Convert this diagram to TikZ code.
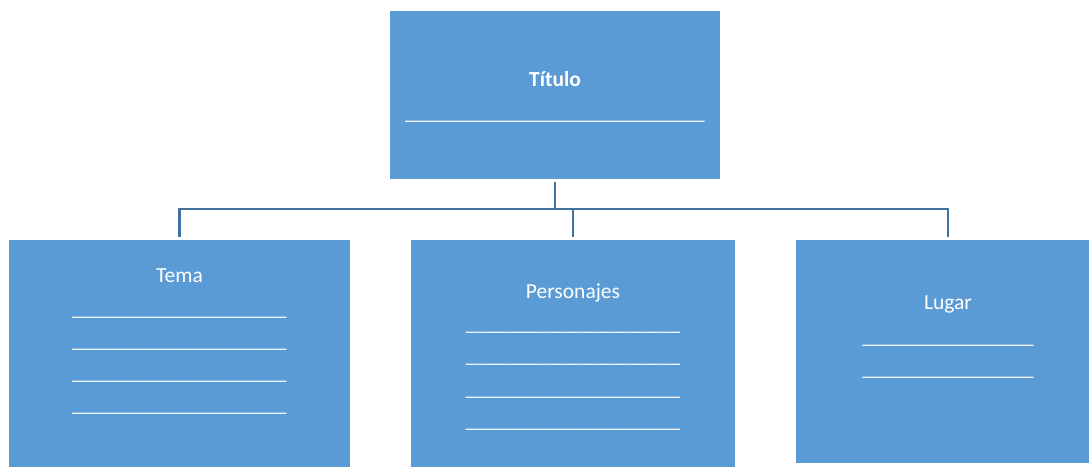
\documentclass[tikz,border=0pt]{standalone}
\usepackage{fontspec}
\setmainfont{Carlito}
\definecolor{boxblue}{HTML}{5B9BD5}
\definecolor{linkblue}{HTML}{41719C}
\newcommand{\blanks}[1]{\foreach \k in {1,...,#1}{\_}}

\begin{document}
\begin{tikzpicture}[x=1pt,y=-1pt,
	box/.style={fill=boxblue, inner sep=0pt},
	link/.style={draw=linkblue, line width=2.5pt},
	lbl/.style={text=white, anchor=base, inner sep=0pt, font=\fontsize{21.5}{26}\selectfont}]
	\useasboundingbox (0,0) rectangle (1089,466);

	% boxes
	\node[box, minimum width=330pt, minimum height=168pt] (titulo) at (555,95) {};
	\node[box, minimum width=341pt, minimum height=232pt] (tema) at (179.5,356) {};
	\node[box, minimum width=324pt, minimum height=232pt] (personajes) at (573,356) {};
	\node[box, minimum width=304pt, minimum height=223pt] (lugar) at (948,351.5) {};

	% texts
	\node[lbl, font=\fontsize{21.5}{26}\selectfont\bfseries] (ttitulo) at (555,86) {Título};
	\node[lbl] (ltitulo) at (555,119) {\blanks{28}};

	\node[lbl] (ttema) at (179.5,282) {Tema};
	\foreach \y [count=\n] in {317,349,381,413}
		\node[lbl] (ltema\n) at (179.5,\y-2) {\blanks{20}};

	\node[lbl] (tpersonajes) at (573,298) {Personajes};
	\foreach \y [count=\n] in {332,364,397,429}
		\node[lbl] (lpersonajes\n) at (573,\y-2) {\blanks{20}};

	\node[lbl] (tlugar) at (948,309) {Lugar};
	\foreach \y [count=\n] in {345,377}
		\node[lbl] (llugar\n) at (948,\y-2) {\blanks{16}};

	% connectors
	\coordinate (bus) at (555,209);
	\draw[link, shorten <=3pt] (titulo.south) -- (bus);
	\draw[link, shorten >=3pt] (bus) -| (tema.north);
	\draw[link, shorten >=3pt] (bus) -| (personajes.north);
	\draw[link, shorten >=3pt] (bus) -| (lugar.north);
\end{tikzpicture}
\end{document}
